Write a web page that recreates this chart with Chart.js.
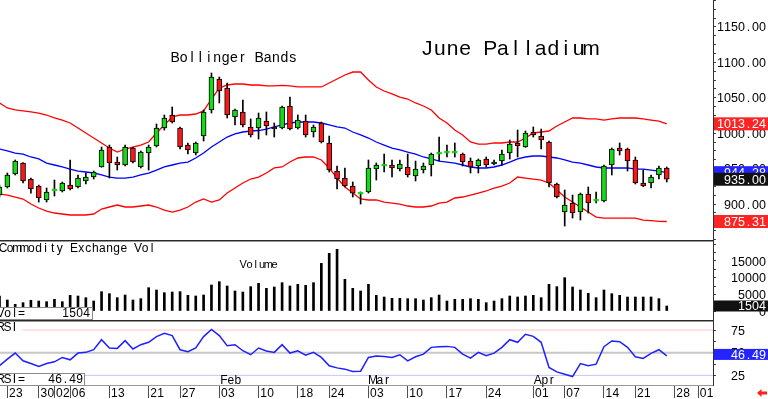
<!DOCTYPE html>
<html>
<head>
<meta charset="utf-8">
<title>June Palladium</title>
<script src="https://cdn.jsdelivr.net/npm/chart.js@4.4.1/dist/chart.umd.min.js"></script>
<style>
  html, body { margin: 0; padding: 0; background: #fff; }
  #wrap { position: relative; width: 768px; height: 399px; overflow: hidden; }
  canvas { position: absolute; left: 0; }
</style>
</head>
<body>
<div id="wrap">
  <canvas id="priceChart" width="768" height="240" style="top:0px"></canvas>
  <canvas id="volChart" width="768" height="80" style="top:240px"></canvas>
  <canvas id="rsiChart" width="768" height="79" style="top:320px"></canvas>
</div>
<script>
const FONT = '"Liberation Sans", Arial, sans-serif';
const GREEN = '#14dc14', RED = '#ff1414';

// sessions on the chart, Dec 20 2024 .. Apr 25 2025
const tradeDays = [
  '12-20','12-23','12-24','12-26','12-27','12-30','12-31',
  '01-02','01-03','01-06','01-07','01-08','01-09','01-10','01-13','01-14','01-15','01-16','01-17',
  '01-21','01-22','01-23','01-24','01-27','01-28','01-29','01-30','01-31',
  '02-03','02-04','02-05','02-06','02-07','02-10','02-11','02-12','02-13','02-14',
  '02-18','02-19','02-20','02-21','02-24','02-25','02-26','02-27','02-28',
  '03-03','03-04','03-05','03-06','03-07','03-10','03-11','03-12','03-13','03-14',
  '03-17','03-18','03-19','03-20','03-21','03-24','03-25','03-26','03-27','03-28','03-31',
  '04-01','04-02','04-03','04-04','04-07','04-08','04-09','04-10','04-11',
  '04-14','04-15','04-16','04-17','04-21','04-22','04-23','04-24','04-25'
];

// x axis marks (session index, future sessions continue past the data)
const tickIdx = [1, 5, 7, 9, 14, 19, 23, 28, 33, 38, 42, 47, 52, 57, 62, 68, 72, 77, 81, 86, 89];
const tickLabels = ['23','30','02','06','13','21','27','03','10','18','24','03','10','17','24','01','07','14','21','28','01'];
const monthIdx = [28, 47, 68];
const monthLabels = ['Feb', 'Mar', 'Apr'];

const openP = [
  912.7, 924.0, 942.4, 957.9, 935.3, 925.4, 905.7, 918.5, 918.4, 926.8,
  924.0, 932.5, 938.1, 952.3, 980.5, 959.3, 955.1, 979.1, 952.3, 972.0,
  981.9, 1007.3, 1025.7, 1007.3, 983.3, 972.0, 996.0, 1032.8, 1076.6, 1063.8,
  1022.9, 1030.0, 1008.8, 1007.3, 1017.2, 1008.8, 1007.3, 1038.4, 1007.3, 1017.2,
  1001.7, 1014.4, 986.2, 946.6, 936.7, 925.4, 913.8, 917.0, 949.4, 953.5,
  955.1, 949.4, 952.3, 939.6, 948.0, 955.1, 970.4, 971.8, 971.8, 970.6,
  960.7, 953.7, 963.6, 956.5, 960.7, 972.0, 986.2, 980.5, 1001.7, 996.0,
  987.6, 928.3, 888.7, 901.4, 888.7, 914.1, 904.2, 904.3, 955.1, 979.1,
  977.7, 962.2, 929.7, 929.7, 941.0, 950.9
];
const highP = [
  926.8, 943.8, 962.2, 958.5, 936.7, 926.8, 922.6, 933.9, 931.1, 962.2,
  941.0, 943.8, 946.6, 980.5, 983.3, 966.4, 983.3, 980.5, 974.9, 983.3,
  1013.0, 1025.7, 1037.0, 1008.8, 986.2, 987.6, 1032.8, 1085.0, 1079.4, 1070.9,
  1034.2, 1046.9, 1020.1, 1028.5, 1030.0, 1014.4, 1038.4, 1051.1, 1025.7, 1025.7,
  1011.6, 1015.8, 996.0, 953.7, 950.9, 931.1, 917.0, 962.2, 957.9, 970.6,
  962.2, 962.2, 970.6, 960.7, 957.9, 972.0, 994.6, 983.3, 986.2, 972.0,
  965.0, 963.6, 966.4, 962.2, 976.3, 990.4, 1004.5, 1003.1, 1008.8, 1005.9,
  989.0, 929.7, 919.8, 912.7, 915.5, 924.0, 917.0, 955.1, 979.1, 986.2,
  979.1, 966.4, 948.0, 941.0, 953.7, 952.3
];
const lowP = [
  909.9, 922.6, 941.0, 929.7, 915.5, 902.8, 902.8, 911.3, 917.0, 919.8,
  922.6, 928.3, 935.3, 952.0, 936.7, 948.0, 953.7, 957.9, 950.9, 948.0,
  980.5, 1004.5, 1014.4, 977.7, 970.6, 969.2, 989.0, 1028.5, 1042.7, 1021.5,
  1011.6, 1008.8, 994.6, 991.8, 997.5, 994.6, 1005.9, 1004.5, 1005.9, 994.6,
  994.6, 986.2, 945.2, 921.2, 924.0, 909.9, 900.0, 915.5, 933.9, 945.2,
  938.1, 946.6, 938.1, 932.5, 943.8, 939.6, 960.7, 966.4, 966.4, 953.7,
  943.8, 943.8, 952.3, 955.1, 955.1, 963.6, 966.4, 980.0, 994.6, 977.7,
  924.0, 908.5, 868.9, 880.2, 877.4, 887.3, 901.4, 902.8, 941.0, 969.2,
  946.6, 928.3, 924.5, 922.6, 935.3, 931.1
];
const closeP = [
  924.0, 941.0, 960.7, 932.5, 921.2, 908.5, 917.0, 918.8, 929.7, 921.2,
  936.7, 938.1, 945.2, 976.3, 957.9, 955.1, 980.5, 959.3, 973.4, 980.5,
  1007.3, 1021.5, 1015.8, 980.5, 976.3, 986.2, 1030.0, 1079.4, 1059.6, 1025.7,
  1032.8, 1011.6, 997.5, 1021.5, 1010.2, 1005.9, 1037.0, 1005.9, 1018.6, 997.5,
  1008.8, 987.6, 948.0, 935.3, 925.4, 915.5, 914.1, 950.9, 955.1, 953.7,
  950.9, 956.5, 941.0, 949.4, 953.7, 970.6, 970.6, 972.0, 972.0, 959.3,
  952.3, 962.2, 955.1, 959.3, 970.6, 984.7, 981.9, 1000.3, 997.5, 990.4,
  929.7, 909.9, 898.6, 887.3, 914.1, 901.4, 904.3, 953.7, 977.7, 974.9,
  960.7, 929.7, 925.4, 938.1, 950.9, 935.0
];

// Bollinger bands as drawn
const bbUpper = [
  1042.7, 1035.6, 1032.8, 1031.4, 1030.0, 1028.5, 1025.7, 1021.5, 1018.6, 1014.4,
  1007.3, 1000.3, 993.2, 986.2, 979.1, 973.4, 977.7, 980.5, 983.3, 987.6,
  1000.3, 1011.6, 1022.9, 1025.7, 1025.7, 1027.1, 1031.4, 1048.3, 1063.8, 1068.1,
  1069.5, 1069.5, 1068.1, 1068.1, 1066.7, 1066.7, 1067.5, 1066.7, 1065.3, 1065.3,
  1065.3, 1065.3, 1070.9, 1076.6, 1082.2, 1086.4, 1086.4, 1075.1, 1065.3, 1059.6,
  1055.4, 1051.1, 1048.3, 1042.7, 1038.4, 1032.8, 1021.5, 1014.4, 1004.5, 997.5,
  987.6, 984.7, 984.7, 986.2, 986.2, 987.6, 987.6, 993.2, 1000.3, 1001.7,
  1003.1, 1010.2, 1015.8, 1021.5, 1021.5, 1020.1, 1020.1, 1018.6, 1020.1, 1021.5,
  1021.5, 1021.5, 1020.1, 1018.6, 1017.2, 1013.24
];
const bbMid = [
  977.7, 974.9, 972.0, 970.6, 966.4, 963.6, 957.9, 955.1, 952.3, 949.4,
  946.6, 945.2, 943.8, 941.0, 938.1, 936.7, 936.7, 938.1, 941.0, 943.8,
  948.0, 952.3, 955.1, 957.9, 959.3, 965.0, 972.0, 980.5, 987.6, 994.6,
  998.9, 1001.7, 1003.1, 1003.8, 1005.9, 1008.8, 1011.6, 1014.4, 1015.8, 1015.8,
  1015.8, 1014.4, 1011.6, 1008.8, 1007.3, 1001.7, 997.5, 993.2, 987.6, 983.3,
  979.1, 976.3, 973.4, 970.6, 966.4, 963.6, 960.7, 959.3, 957.9, 955.1,
  952.3, 950.9, 950.9, 952.3, 955.1, 959.3, 963.6, 966.4, 967.8, 967.8,
  966.4, 965.0, 962.2, 959.3, 957.9, 955.1, 952.3, 950.9, 950.9, 950.9,
  950.9, 949.4, 949.4, 948.0, 946.6, 944.28
];
const bbLower = [
  914.1, 912.7, 909.9, 907.1, 900.0, 894.4, 890.1, 887.3, 885.9, 884.5,
  884.5, 884.5, 885.9, 892.9, 895.8, 898.6, 895.8, 895.8, 897.2, 898.6,
  895.8, 891.5, 888.7, 891.5, 895.8, 902.8, 907.1, 902.8, 905.7, 915.5,
  922.6, 929.7, 935.3, 938.1, 943.8, 950.9, 952.3, 959.3, 965.0, 966.4,
  966.4, 962.2, 950.9, 936.7, 924.0, 915.5, 907.1, 905.7, 905.7, 902.8,
  901.4, 900.0, 897.2, 895.8, 895.8, 897.2, 901.4, 902.8, 908.5, 909.9,
  912.7, 915.5, 918.4, 922.6, 925.4, 929.7, 938.1, 936.7, 935.3, 933.9,
  929.7, 919.8, 909.9, 902.8, 895.8, 888.7, 881.6, 880.2, 880.2, 880.2,
  880.2, 880.2, 877.4, 876.5, 875.5, 875.31
];

const volume = [
  4500, 3300, 2000, 2500, 3200, 3000, 2800, 3500, 2800, 4700,
  4500, 4000, 3000, 5800, 5200, 4000, 4800, 3300, 3700, 7000,
  6300, 5500, 5700, 5800, 4700, 4500, 4800, 7800, 8800, 7500,
  6000, 5700, 7300, 8300, 6800, 7200, 8500, 7500, 8000, 7700,
  8500, 14300, 17300, 18500, 9500, 6800, 6000, 8000, 4700, 4200,
  3800, 3800, 3700, 3700, 3300, 4000, 4800, 3000, 3500, 3500,
  3700, 3500, 2500, 3000, 3700, 4500, 4200, 4500, 4700, 4000,
  8000, 7300, 10000, 7200, 6300, 5300, 4000, 6300, 5200, 4700,
  4200, 4200, 4200, 4200, 3700, 1504
];

const rsi = [
  35.6, 43.0, 49.6, 41.1, 38.1, 34.8, 38.1, 40.0, 44.8, 42.2,
  49.6, 50.4, 53.3, 64.4, 55.2, 54.8, 63.3, 54.1, 58.9, 61.5,
  67.8, 71.5, 68.9, 53.3, 51.1, 55.2, 67.8, 75.6, 68.9, 57.8,
  58.9, 52.2, 47.8, 55.2, 51.9, 50.4, 58.9, 49.6, 52.2, 47.4,
  50.4, 44.8, 35.6, 33.3, 31.9, 29.3, 29.6, 44.8, 46.3, 45.9,
  44.8, 47.8, 41.1, 45.6, 48.5, 55.9, 56.7, 57.0, 55.9, 48.5,
  44.1, 50.4, 46.7, 49.6, 55.9, 64.4, 61.5, 70.4, 68.1, 61.5,
  33.7, 28.9, 26.3, 23.7, 38.1, 35.6, 37.4, 56.7, 63.0, 62.2,
  55.9, 45.6, 43.7, 49.3, 53.3, 46.49
];

const priceTicks = [900, 950, 1000, 1050, 1100, 1150];
const volTicks = [0, 5000, 10000, 15000];
const rsiTicks = [25, 50, 75];

const N = closeP.length;
// first session sits half off the left edge, room for 5 more on the right
const X_MIN = 0.064, X_MAX = 90.89;

// the old package draws every character in its own fixed cell
function cellText(ctx, text, x, y, cell, size, color, align) {
  ctx.save();
  ctx.font = size + 'px ' + FONT;
  ctx.fillStyle = color;
  ctx.textAlign = 'center';
  ctx.textBaseline = 'alphabetic';
  const start = align === 'right' ? x - text.length * cell : x;
  for (let i = 0; i < text.length; i++) {
    ctx.fillText(text[i], start + cell * (i + 0.5), y);
  }
  ctx.restore();
}

function valueBox(ctx, cy, text, color, h) {
  ctx.fillStyle = color;
  ctx.fillRect(714, cy - h / 2, 54, h);
  cellText(ctx, text, 766, cy + 4.5, 7, 12.5, '#fff', 'right');
}

function hline(ctx, y, x1, x2, color, w) {
  ctx.save();
  ctx.strokeStyle = color;
  ctx.lineWidth = w;
  ctx.beginPath();
  ctx.moveTo(x1, y);
  ctx.lineTo(x2, y);
  ctx.stroke();
  ctx.restore();
}

function xScale(show) {
  return {
    type: 'linear', min: X_MIN, max: X_MAX, offset: false, display: show,
    grid: { offset: false, drawOnChartArea: false, drawTicks: true, tickLength: 13, color: '#505050' },
    border: { display: true, color: '#9a9a9a' },
    ticks: { display: false },
    afterBuildTicks: s => { s.ticks = tickIdx.map(v => ({ value: v })); },
    afterFit: s => { s.height = show ? 14 : 0; }
  };
}

function yScale(min, max, from, to, step) {
  return {
    position: 'right', min: min, max: max,
    ticks: { display: false },
    grid: { drawOnChartArea: false, drawTicks: true, tickLength: 3, color: '#404040' },
    border: { display: true, color: '#303030' },
    afterBuildTicks: s => {
      const t = [];
      for (let v = from; v <= to; v += step) t.push({ value: v });
      s.ticks = t;
    },
    afterFit: s => { s.width = 55; }
  };
}

const base = {
  responsive: false, animation: false, devicePixelRatio: 1, events: [],
  layout: { padding: 0 },
  plugins: { legend: { display: false }, tooltip: { enabled: false } }
};

function band(values, color) {
  return {
    type: 'line', data: values.map((v, i) => ({ x: i, y: v })), order: 2,
    borderColor: color, borderWidth: 1.3, pointRadius: 0, tension: 0, fill: false
  };
}

// price panel
const pricePlugin = {
  id: 'priceText',
  afterDraw(chart) {
    const ctx = chart.ctx, ys = chart.scales.y;
    priceTicks.forEach(v => cellText(ctx, v.toFixed(2), 766, ys.getPixelForValue(v) + 4.5, 7, 12.5, '#000', 'right'));
    valueBox(ctx, ys.getPixelForValue(bbUpper[N - 1]), bbUpper[N - 1].toFixed(2), '#ff2424', 13);
    valueBox(ctx, ys.getPixelForValue(bbMid[N - 1]), bbMid[N - 1].toFixed(2), '#2424ff', 13);
    valueBox(ctx, ys.getPixelForValue(closeP[N - 1]), closeP[N - 1].toFixed(2), '#111', 13);
    valueBox(ctx, ys.getPixelForValue(bbLower[N - 1]), bbLower[N - 1].toFixed(2), '#ff2424', 13);
    cellText(ctx, 'Bollinger Bands', 171, 62, 8.4, 14, '#000');
    cellText(ctx, 'June Palladium', 421, 55, 12.6, 21, '#000');
  }
};

new Chart(document.getElementById('priceChart'), {
  type: 'bar',
  data: {
    datasets: [
      {
        label: 'body', order: 0, grouped: false, barThickness: 5, minBarLength: 2,
        data: openP.map((o, i) => ({ x: i, y: [o, closeP[i]] })),
        borderWidth: 1, borderSkipped: false,
        backgroundColor: c => closeP[c.dataIndex] >= openP[c.dataIndex] ? GREEN : RED,
        borderColor: c => Math.abs(closeP[c.dataIndex] - openP[c.dataIndex]) < 1 ? GREEN : '#000'
      },
      {
        label: 'wick', order: 1, grouped: false, barThickness: 1,
        data: lowP.map((l, i) => ({ x: i, y: [l, highP[i]] })),
        backgroundColor: '#000', borderWidth: 0
      },
      band(bbUpper, '#ff0000'),
      band(bbMid, '#0000ff'),
      band(bbLower, '#ff0000')
    ]
  },
  options: Object.assign({}, base, {
    scales: { x: xScale(false), y: yScale(849.2, 1188.1, 850, 1187.5, 12.5) }
  }),
  plugins: [pricePlugin]
});

// volume panel
const volPlugin = {
  id: 'volText',
  afterDraw(chart) {
    const ctx = chart.ctx, ys = chart.scales.y;
    ctx.fillStyle = '#2a2a2a';
    ctx.fillRect(0, 0, 713, 1.5);
    volTicks.forEach(v => cellText(ctx, String(v), 766, ys.getPixelForValue(v) + 4.5, 7, 12.5, '#000', 'right'));
    valueBox(ctx, ys.getPixelForValue(volume[N - 1]), String(volume[N - 1]), '#111', 11);
    cellText(ctx, 'Commodity Exchange Vol', -0.5, 11.5, 7.1, 12, '#000');
    cellText(ctx, 'Volume', 240, 28, 6.3, 11, '#000');
    ctx.fillStyle = '#fff';
    ctx.fillRect(-1, 67, 94, 12);
    ctx.strokeStyle = '#8a8a8a';
    ctx.lineWidth = 1;
    ctx.strokeRect(-0.5, 67.5, 93, 12);
    cellText(ctx, 'Vol=', -3, 76.5, 7, 12, '#000');
    cellText(ctx, String(volume[N - 1]), 90, 76.5, 7, 12, '#000', 'right');
  }
};

new Chart(document.getElementById('volChart'), {
  type: 'bar',
  data: {
    datasets: [{
      label: 'Volume', grouped: false, barThickness: 2,
      data: volume.map((v, i) => ({ x: i, y: v })),
      backgroundColor: '#000', borderWidth: 0
    }]
  },
  options: Object.assign({}, base, {
    scales: { x: xScale(false), y: yScale(-2700, 21300, 0, 20000, 2500) }
  }),
  plugins: [volPlugin]
});

// RSI panel + date axis
const rsiPlugin = {
  id: 'rsiText',
  beforeDatasetsDraw(chart) {
    const ctx = chart.ctx, ys = chart.scales.y, a = chart.chartArea;
    hline(ctx, ys.getPixelForValue(75), 22, a.right, '#ffc4c4', 1);
    hline(ctx, ys.getPixelForValue(50), 0, a.right, '#c8c8c8', 2);
    hline(ctx, ys.getPixelForValue(25), 0, a.right, '#c4c4ff', 1);
  },
  afterDraw(chart) {
    const ctx = chart.ctx, ys = chart.scales.y, xs = chart.scales.x;
    ctx.fillStyle = '#2a2a2a';
    ctx.fillRect(0, 0, 713, 1.5);
    cellText(ctx, 'RSI', -3, 11, 7, 12, '#000');

    ctx.fillStyle = '#fff';
    ctx.fillRect(-1, 53, 86, 12);
    ctx.strokeStyle = '#8a8a8a';
    ctx.lineWidth = 1;
    ctx.strokeRect(-0.5, 53.5, 85, 12);
    cellText(ctx, 'RSI=', -3, 63, 7, 12, '#000');
    cellText(ctx, rsi[N - 1].toFixed(2), 83, 63, 7, 12, '#000', 'right');

    monthIdx.forEach((m, i) => cellText(ctx, monthLabels[i], xs.getPixelForValue(m) + 1, 63.5, 7, 12, '#000'));
    tickIdx.forEach((t, i) => cellText(ctx, tickLabels[i], xs.getPixelForValue(t) + 1.5, 77, 7, 12, '#000'));

    rsiTicks.forEach(v => cellText(ctx, String(v), 745, ys.getPixelForValue(v) + 4.5, 7, 12.5, '#000', 'right'));
    valueBox(ctx, ys.getPixelForValue(rsi[N - 1]) - 1.5, rsi[N - 1].toFixed(2), '#2424ff', 11);

    // little red arrow bottom right
    ctx.fillStyle = '#ff2020';
    ctx.beginPath();
    ctx.moveTo(757, 73);
    ctx.lineTo(761.5, 69);
    ctx.lineTo(761.5, 71.5);
    ctx.lineTo(767, 71.5);
    ctx.lineTo(767, 74.5);
    ctx.lineTo(761.5, 74.5);
    ctx.lineTo(761.5, 77);
    ctx.closePath();
    ctx.fill();
  }
};

new Chart(document.getElementById('rsiChart'), {
  type: 'line',
  data: {
    datasets: [{
      label: 'RSI', data: rsi.map((v, i) => ({ x: i, y: v })),
      borderColor: '#2020ff', borderWidth: 1.5, pointRadius: 0, tension: 0, fill: false
    }]
  },
  options: Object.assign({}, base, {
    scales: { x: xScale(true), y: yScale(14.4, 86.1, 25, 75, 12.5) }
  }),
  plugins: [rsiPlugin]
});
</script>
</body>
</html>
